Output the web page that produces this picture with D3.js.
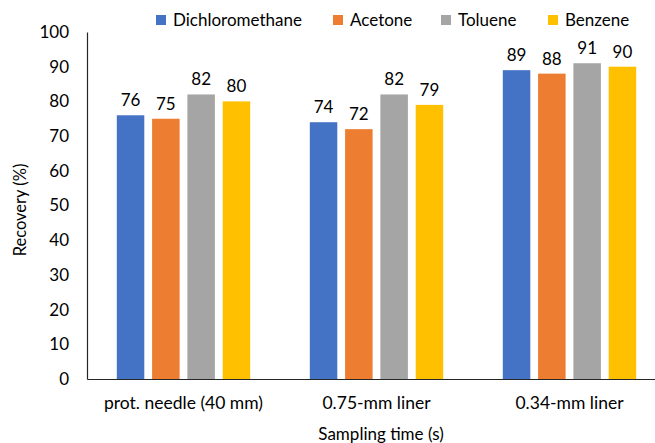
<!DOCTYPE html>
<html>
<head>
<meta charset="utf-8">
<script src="https://cdn.jsdelivr.net/npm/d3@7"></script>
<style>
  html, body { margin: 0; padding: 0; background: #fff; }
  svg text { font-family: Lato, "Open Sans", sans-serif; fill: #000; }
</style>
</head>
<body>
<svg id="chart" width="655" height="443"></svg>
<script>
// Recovery of each solvent for three sampling configurations
const categories = ["prot. needle (40 mm)", "0.75-mm liner", "0.34-mm liner"];
const seriesNames = ["Dichloromethane", "Acetone", "Toluene", "Benzene"];
const dichloromethane = [76, 74, 89];
const acetone = [75, 72, 88];
const toluene = [82, 82, 91];
const benzene = [80, 79, 90];
const yTicks = [0, 10, 20, 30, 40, 50, 60, 70, 80, 90, 100];
const colors = ["#4472C4", "#ED7D31", "#A5A5A5", "#FFC000"];

const seriesValues = [dichloromethane, acetone, toluene, benzene];

const svg = d3.select("#chart");
const margin = { left: 87, top: 32, bottom: 64 };
const plotRight = 666; // the category band extends past the page edge
const height = 443;

const x = d3.scaleBand().domain(categories).range([margin.left, plotRight]).paddingInner(0).paddingOuter(0);
const y = d3.scaleLinear().domain([0, 100]).range([height - margin.bottom, margin.top]);

const barW = 27.5, barStep = 35.3;
const xs = d3.scaleBand().domain(seriesNames).range([0, barStep * 4]).paddingInner(0);

// bars
seriesNames.forEach((name, si) => {
  const g = svg.append("g");
  categories.forEach((cat, ci) => {
    const v = seriesValues[si][ci];
    const cx = x(cat) + x.bandwidth() / 2 - (barStep * 4 - (barStep - barW)) / 2 + xs(name);
    g.append("rect")
      .attr("x", cx).attr("y", y(v))
      .attr("width", barW).attr("height", y(0) - y(v))
      .attr("fill", colors[si]);
    g.append("text")
      .attr("x", cx + barW / 2).attr("y", y(v) - 9)
      .attr("text-anchor", "middle")
      .attr("font-size", 17)
      .text(d3.format("d")(v));
  });
});

// y axis
const yAxis = svg.append("g").attr("transform", `translate(${margin.left},0)`)
  .call(d3.axisLeft(y).tickValues(yTicks).tickSize(0).tickPadding(18));
yAxis.select(".domain").attr("stroke", "#262626").attr("stroke-width", 1.2);
yAxis.selectAll("text").attr("font-size", 17).attr("font-family", "Lato, sans-serif").attr("fill", "#000");

// x axis
const xAxis = svg.append("g").attr("transform", `translate(0,${y(0)})`)
  .call(d3.axisBottom(x).tickSize(0).tickPadding(18));
xAxis.select(".domain").attr("stroke", "#262626").attr("stroke-width", 1.2);
xAxis.selectAll("text").attr("font-size", 17.5).attr("font-family", "Lato, sans-serif").attr("fill", "#000");

// axis titles
svg.append("text")
  .attr("transform", `translate(26,210) rotate(-90)`)
  .attr("text-anchor", "middle").attr("font-size", 16.5)
  .text("Recovery (%)");
svg.append("text")
  .attr("x", 381).attr("y", 440)
  .attr("text-anchor", "middle").attr("font-size", 17)
  .text("Sampling time (s)");

// legend
const legendX = [156, 333, 441, 548];
const legend = svg.append("g");
seriesNames.forEach((name, i) => {
  legend.append("rect").attr("x", legendX[i]).attr("y", 15).attr("width", 10).attr("height", 10).attr("fill", colors[i]);
  legend.append("text").attr("x", legendX[i] + 17).attr("y", 26).attr("font-size", 17).text(name);
});
</script>
</body>
</html>
